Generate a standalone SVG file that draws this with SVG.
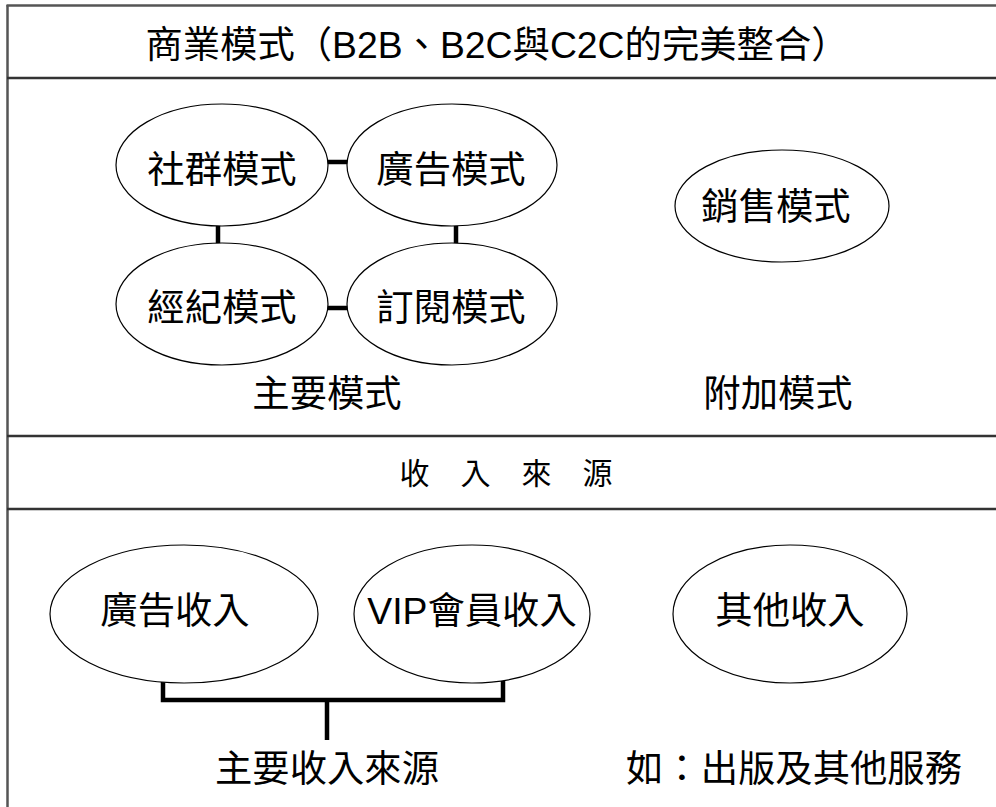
<svg xmlns="http://www.w3.org/2000/svg" width="996" height="807" viewBox="0 0 996 807">
<style>
  text { font-family: 'Liberation Sans', 'Noto Sans CJK TC', sans-serif; font-size: 37.33px; fill: #000; text-anchor: middle; }
  .frame { stroke: #555; stroke-width: 2.5; fill: none; }
  .rule { stroke: #333; stroke-width: 2.5; fill: none; }
  .node ellipse { fill: #fff; stroke: #000; stroke-width: 1.2; }
  .conn { stroke: #000; stroke-width: 4.5; fill: none; }
</style>
<rect width="996" height="807" fill="#fff"/>
<g id="frame">
  <line class="frame" x1="7.5" y1="5" x2="7.5" y2="807"/>
  <line class="frame" x1="6.5" y1="5.5" x2="996" y2="5.5"/>
  <line class="rule" x1="7" y1="78" x2="996" y2="78"/>
  <line class="rule" x1="7" y1="436" x2="996" y2="436"/>
  <line class="rule" x1="7" y1="509" x2="996" y2="509"/>
</g>
<g id="title"><text x="497" y="58">商業模式（B2B、B2C與C2C的完美整合）</text></g>
<g id="connectors">
  <line class="conn" x1="327" y1="162" x2="348" y2="162"/>
  <line class="conn" x1="327" y1="308" x2="348" y2="308"/>
  <line class="conn" x1="218" y1="225" x2="218" y2="244"/>
  <line class="conn" x1="456" y1="225" x2="456" y2="244"/>
  <polyline class="conn" points="163,681 163,700 503,700 503,681"/>
  <line class="conn" x1="327" y1="700" x2="327" y2="740"/>
</g>
<g id="n-social" class="node"><ellipse cx="222" cy="165" rx="106" ry="61"/><text x="222" y="183">社群模式</text></g>
<g id="n-ad" class="node"><ellipse cx="452" cy="165" rx="105" ry="61"/><text x="451" y="183">廣告模式</text></g>
<g id="n-broker" class="node"><ellipse cx="222" cy="304" rx="106" ry="61"/><text x="222" y="321">經紀模式</text></g>
<g id="n-sub" class="node"><ellipse cx="452" cy="304" rx="105" ry="61"/><text x="451" y="321">訂閱模式</text></g>
<g id="n-sales" class="node"><ellipse cx="782" cy="206" rx="107" ry="56"/><text x="776" y="220">銷售模式</text></g>
<g id="l-main"><text x="327" y="407">主要模式</text></g>
<g id="l-extra"><text x="778" y="407">附加模式</text></g>
<g id="l-income"><text x="506" y="484" style="font-size:30px" textLength="213" lengthAdjust="spacing">收 入 來 源</text></g>
<g id="n-adinc" class="node"><ellipse cx="184" cy="614" rx="134" ry="69"/><text x="175" y="624">廣告收入</text></g>
<g id="n-vip" class="node"><ellipse cx="472" cy="614" rx="118" ry="69"/><text x="472" y="624">VIP會員收入</text></g>
<g id="n-other" class="node"><ellipse cx="790" cy="614" rx="117" ry="69"/><text x="790" y="624">其他收入</text></g>
<g id="l-mainincome"><text x="327" y="782">主要收入來源</text></g>
<g id="l-otherincome"><text x="794" y="782">如：出版及其他服務</text></g>
</svg>
